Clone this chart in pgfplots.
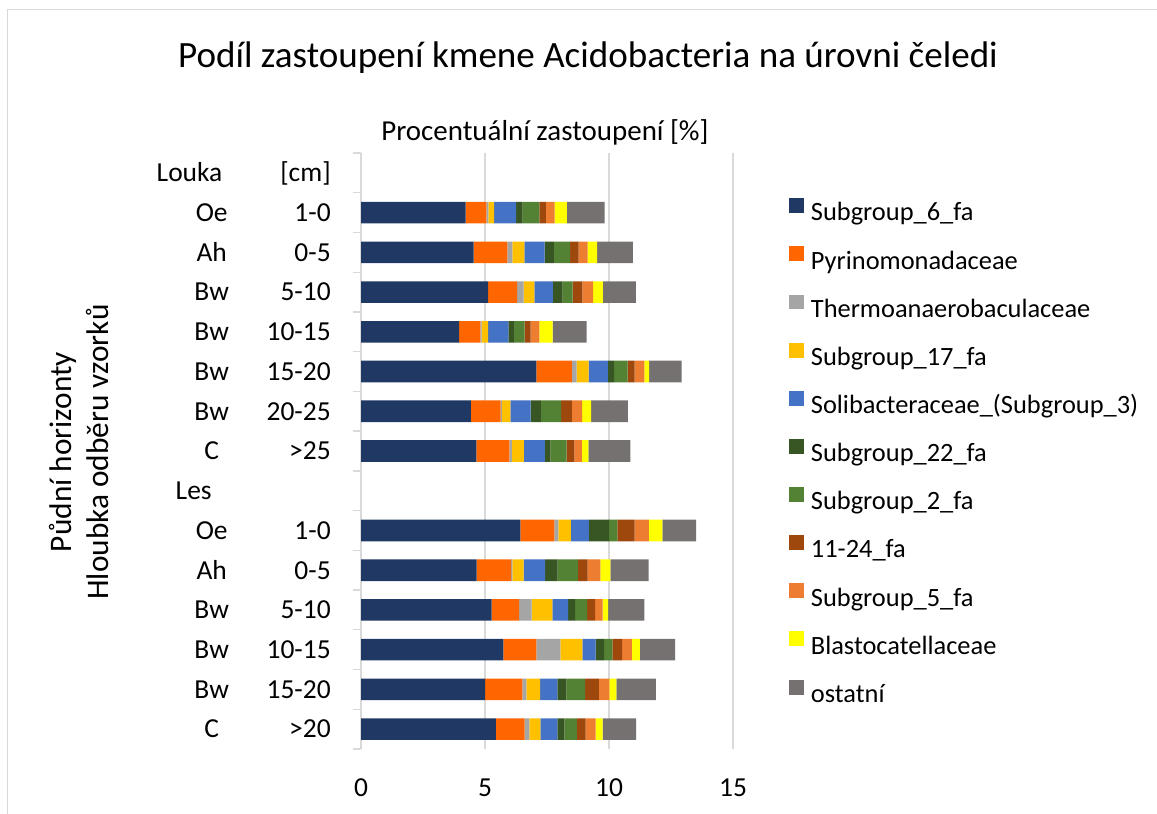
\documentclass[border=0pt]{standalone}
\usepackage{pgfplots}
\pgfplotsset{compat=1.18}
\usepackage{pgfplotstable}
\usepackage{fontspec}
\setmainfont{Carlito}

\definecolor{cS6}{HTML}{203864}
\definecolor{cPy}{HTML}{FF6600}
\definecolor{cTh}{HTML}{A5A5A5}
\definecolor{cS17}{HTML}{FFC000}
\definecolor{cSo}{HTML}{4472C4}
\definecolor{cS22}{HTML}{375623}
\definecolor{cS2}{HTML}{548235}
\definecolor{cEl}{HTML}{9E480E}
\definecolor{cS5}{HTML}{ED7D31}
\definecolor{cBl}{HTML}{FFFF00}
\definecolor{cOs}{HTML}{767171}
\definecolor{gridc}{HTML}{D9D9D9}

\pgfplotstableread{
y  s6   py   th   s17  so   s22  s2   el   s5   bl   os
1  4.22 0.84 0.08 0.23 0.88 0.27 0.67 0.26 0.36 0.49 1.52
2  4.54 1.36 0.20 0.49 0.81 0.38 0.65 0.35 0.36 0.38 1.44
3  5.13 1.17 0.26 0.43 0.75 0.39 0.40 0.40 0.43 0.39 1.33
4  3.96 0.85 0.05 0.27 0.81 0.22 0.44 0.24 0.35 0.54 1.37
5  7.07 1.43 0.19 0.49 0.77 0.26 0.54 0.28 0.40 0.19 1.31
6  4.43 1.20 0.05 0.34 0.82 0.41 0.82 0.43 0.42 0.36 1.48
7  4.65 1.33 0.10 0.49 0.84 0.23 0.65 0.31 0.31 0.26 1.69
9  6.43 1.37 0.16 0.50 0.73 0.81 0.34 0.69 0.58 0.54 1.36
10 4.66 1.39 0.05 0.46 0.86 0.51 0.81 0.40 0.51 0.41 1.54
11 5.27 1.11 0.50 0.84 0.63 0.28 0.49 0.32 0.30 0.22 1.47
12 5.74 1.33 0.97 0.89 0.53 0.34 0.34 0.39 0.39 0.32 1.43
13 5.00 1.51 0.16 0.55 0.70 0.36 0.76 0.55 0.43 0.28 1.59
14 5.44 1.16 0.19 0.44 0.69 0.28 0.50 0.36 0.40 0.28 1.35
}\data

\newcommand{\yl}[2]{\makebox[75pt][c]{#1}\makebox[51.75pt][r]{#2}}

\begin{document}
\begin{tikzpicture}
\useasboundingbox (0,0) rectangle (867.75pt,610.5pt);
\draw[gridc, line width=0.75pt] (5.25pt,0) -- (5.25pt,603pt) -- (867.75pt,603pt);
\node[font=\fontsize{27.8}{33}\selectfont] at (441pt,567pt) {Podíl zastoupení kmene Acidobacteria na úrovni čeledi};
\node[font=\fontsize{21.7}{26}\selectfont] at (408.75pt,511pt) {Procentuální zastoupení [\%]};
\node[rotate=90, align=center, font=\fontsize{23.5}{27.75}\selectfont] at (58.9pt,271.5pt) {Půdní horizonty\\Hloubka odběru vzorků};
\begin{axis}[
  at={(270.75pt,48.75pt)}, anchor=south west,
  scale only axis, width=279pt, height=447pt,
  xbar stacked, bar width=16.2pt,
  xmin=0, xmax=15, ymin=-0.5, ymax=14.5, y dir=reverse,
  xtick={0,5,10,15},
  ytick={0,...,14},
  yticklabels={
    {\makebox[75pt][l]{\hspace*{-3.75pt}Louka}\makebox[51.75pt][r]{[cm]}},
    {\yl{Oe}{1-0}},{\yl{Ah}{0-5}},{\yl{Bw}{5-10}},{\yl{Bw}{10-15}},{\yl{Bw}{15-20}},{\yl{Bw}{20-25}},{\yl{C}{>25}},
    {\makebox[75pt][l]{\hspace*{10.5pt}Les}\makebox[51.75pt][r]{}},
    {\yl{Oe}{1-0}},{\yl{Ah}{0-5}},{\yl{Bw}{5-10}},{\yl{Bw}{10-15}},{\yl{Bw}{15-20}},{\yl{C}{>20}}},
  minor ytick={-0.5,0.5,...,14.5},
  major tick length=0pt, minor tick length=6pt, tick align=outside,
  minor tick style={gridc, line width=1pt},
  axis x line*=bottom, axis y line*=left,
  x axis line style={draw=none},
  y axis line style={gridc, line width=1pt},
  xmajorgrids, grid style={gridc, line width=1pt},
  /pgf/number format/assume math mode=true,
  ticklabel style={font=\fontsize{20.6}{24}\selectfont},
  xticklabel style={anchor=base, inner sep=0pt, yshift=-35.8pt},
  yticklabel style={anchor=base east, inner sep=0pt, xshift=-22.5pt, yshift=-6.6pt},
  legend style={at={(rel axis cs:1.1505,0.9245)}, anchor=north west, draw=none, fill=none,
    font=\fontsize{19.8}{23}\selectfont, row sep=15.1pt, column sep=5pt, inner sep=0pt,
    nodes={inner sep=0pt, text height=14pt, text depth=4pt}},
  legend cell align=left,
  legend image code/.code={\fill[#1] (0pt,0.8pt) rectangle (11.25pt,12pt);},
  clip=false,
]
\addplot[fill=cS6, draw=none] table[x=s6,y=y]{\data};
\addplot[fill=cPy, draw=none] table[x=py,y=y]{\data};
\addplot[fill=cTh, draw=none] table[x=th,y=y]{\data};
\addplot[fill=cS17, draw=none] table[x=s17,y=y]{\data};
\addplot[fill=cSo, draw=none] table[x=so,y=y]{\data};
\addplot[fill=cS22, draw=none] table[x=s22,y=y]{\data};
\addplot[fill=cS2, draw=none] table[x=s2,y=y]{\data};
\addplot[fill=cEl, draw=none] table[x=el,y=y]{\data};
\addplot[fill=cS5, draw=none] table[x=s5,y=y]{\data};
\addplot[fill=cBl, draw=none] table[x=bl,y=y]{\data};
\addplot[fill=cOs, draw=none] table[x=os,y=y]{\data};
\legend{Subgroup\_6\_fa, Pyrinomonadaceae, Thermoanaerobaculaceae, Subgroup\_17\_fa, Solibacteraceae\_(Subgroup\_3), Subgroup\_22\_fa, Subgroup\_2\_fa, 11-24\_fa, Subgroup\_5\_fa, Blastocatellaceae, ostatní}
\end{axis}
\end{tikzpicture}
\end{document}
